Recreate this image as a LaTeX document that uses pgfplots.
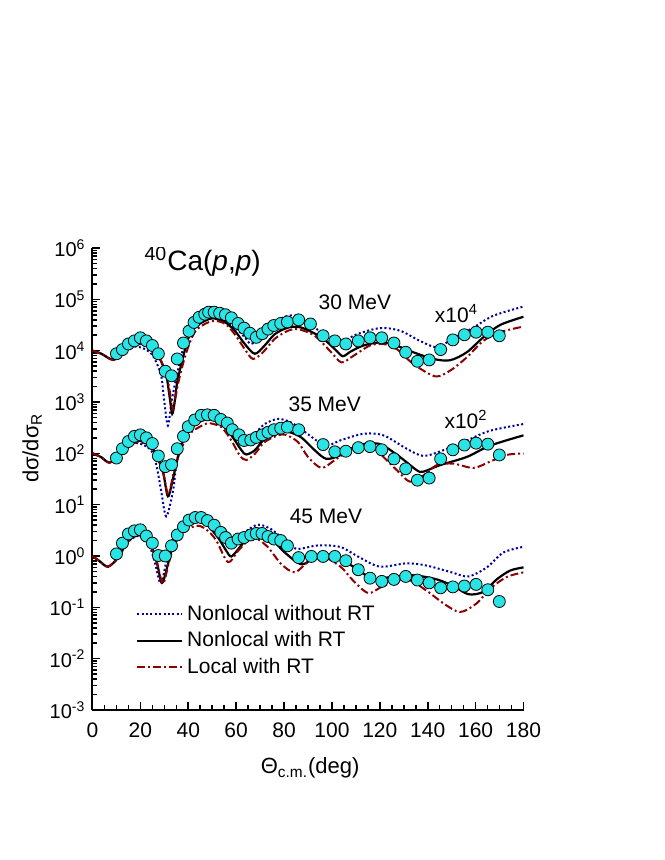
\documentclass[border=0pt]{standalone}
\usepackage{pgfplots}
\pgfplotsset{compat=1.18}
\usepackage{fontspec}
\setmainfont{Liberation Sans}
\definecolor{navy}{RGB}{0,0,160}
\definecolor{dred}{RGB}{140,0,0}
\definecolor{cyanfill}{RGB}{40,228,228}

\begin{document}
\begin{tikzpicture}
\useasboundingbox (-46.25pt,-75pt) rectangle (285.75pt,355pt);
\begin{axis}[
  at={(0pt,0pt)}, anchor=south west,
  scale only axis, width=215.5pt, height=231pt,
  xmin=0, xmax=180, ymode=log, ymin=1e-3, ymax=1e6,
  axis x line*=bottom, axis y line*=left,
  axis line style={line width=1pt},
  tick align=inside, major tick length=4pt, minor tick length=2.5pt,
  every tick/.style={black, line width=0.8pt},
  xtick={0,20,...,180}, minor x tick num=3,
  ytick={1e-3,1e-2,0.1,1,10,100,1e3,1e4,1e5,1e6},
  yticklabels={10\textsuperscript{-3},10\textsuperscript{-2},10\textsuperscript{-1},10\textsuperscript{0},10\textsuperscript{1},10\textsuperscript{2},10\textsuperscript{3},10\textsuperscript{4},10\textsuperscript{5},10\textsuperscript{6}},
  minor ytick={2e-3,3e-3,4e-3,5e-3,6e-3,7e-3,8e-3,9e-3,
    2e-2,3e-2,4e-2,5e-2,6e-2,7e-2,8e-2,9e-2,
    0.2,0.3,0.4,0.5,0.6,0.7,0.8,0.9,
    2,3,4,5,6,7,8,9,
    20,30,40,50,60,70,80,90,
    200,300,400,500,600,700,800,900,
    2e3,3e3,4e3,5e3,6e3,7e3,8e3,9e3,
    2e4,3e4,4e4,5e4,6e4,7e4,8e4,9e4,
    2e5,3e5,4e5,5e5,6e5,7e5,8e5,9e5},
  /pgf/number format/assume math mode=true,
  xticklabel style={font=\fontsize{10.5}{12}\selectfont, yshift=-3pt},
  yticklabel style={font=\fontsize{10}{11}\selectfont},
  xlabel={Θ\textsubscript{c.m.}(deg)},
  ylabel={dσ/dσ\textsubscript{R}},
  xlabel style={font=\fontsize{11}{13}\selectfont, at={(axis description cs:0.505,-0.126)}, anchor=center},
  ylabel style={font=\fontsize{11}{13}\selectfont, at={(axis description cs:-0.14,0.567)}, anchor=center},
  legend cell align=left,
  legend style={at={(0.10,0.236)}, anchor=north west, draw=none, fill=none,
    font=\fontsize{10.5}{12.5}\selectfont, row sep=0pt, inner sep=0pt},
  legend image code/.code={\draw[#1] (0pt,0pt) -- (22.5pt,0pt);},
]
% ---- 30 MeV (x10^4)
\addplot[navy, line width=1pt, dash pattern=on 1pt off 1.2pt, smooth] coordinates {
(0,1e4) (3.7,8.7e3) (8.6,6.6e3) (12,8.5e3) (15,1.1e4) (18,1.2e4) (21,1.12e4) (24,9.3e3) (26,6.9e3) (28.7,3.24e3) (30,1e3) (31.5,347) (33,1e3) (34.6,2.45e3) (37.1,7.9e3) (39.2,1.95e4) (42.7,3.31e4) (48.2,4.47e4) (52.4,4.47e4) (59.4,2.82e4) (63.6,1.82e4) (66.3,1.35e4) (70.5,1.95e4) (76.1,3.55e4) (81.7,4.79e4) (87.2,4.47e4) (92.8,2.82e4) (98.4,1.82e4) (103.4,1.45e4) (110.4,2.09e4) (120.1,2.75e4) (128.4,2.45e4) (136.8,1.55e4) (143.8,1.17e4) (150.7,1.74e4) (159.1,2.82e4) (167.4,4.79e4) (180,7.24e4)};
\addplot[black, line width=1.1pt, smooth] coordinates {
(0,1e4) (3.7,8.7e3) (8.6,6.6e3) (12,8.7e3) (15,1.17e4) (19,1.41e4) (23,1.26e4) (27.8,7.4e3) (30.8,3.24e3) (32.2,1.26e3) (33.3,589) (34.3,1e3) (35.4,2.45e3) (37.8,7.4e3) (39.9,1.7e4) (42.7,2.82e4) (46.9,3.8e4) (50.3,4.27e4) (55.2,3.63e4) (59.4,2.45e4) (63.6,1.35e4) (67.8,8.7e3) (71.9,1.26e4) (76.1,2.09e4) (81.7,2.82e4) (87.2,2.82e4) (95.6,1.82e4) (101.2,1.07e4) (104.5,7.8e3) (107.6,9.5e3) (113.1,1.26e4) (120.1,1.45e4) (125.6,1.32e4) (134,9.3e3) (142.4,6.9e3) (149.3,6.5e3) (156.3,9.3e3) (163.2,1.82e4) (170.2,3.16e4) (180,4.57e4)};
\addplot[dred, line width=1pt, dash pattern=on 4pt off 1.5pt on 1pt off 1.5pt, smooth] coordinates {
(0,1e4) (3.7,8.7e3) (8.6,6.6e3) (12,8.7e3) (15,1.15e4) (19,1.35e4) (23,1.2e4) (27.8,7.4e3) (30.8,3.55e3) (32.3,1.58e3) (33.5,708) (34.5,1.12e3) (36.2,2.82e3) (39.2,9.3e3) (42.7,2.29e4) (46.9,3.31e4) (51,3.8e4) (55.5,3.31e4) (59.4,2.09e4) (63.6,1.07e4) (67,6.9e3) (71.2,9.3e3) (76.1,1.7e4) (81.7,2.45e4) (85.8,2.63e4) (92.8,1.95e4) (99.7,9.3e3) (104,5.9e3) (108.9,7.9e3) (115.9,1.26e4) (121.5,1.35e4) (127.1,1.07e4) (134,5.5e3) (143.1,3.16e3) (149.3,4.07e3) (156.3,7.4e3) (163.2,1.55e4) (170.2,2.29e4) (180,2.95e4)};
\legend{Nonlocal without RT, Nonlocal with RT, Local with RT}
% ---- 35 MeV (x10^2)
\addplot[navy, line width=1pt, dash pattern=on 1pt off 1.2pt, smooth, forget plot] coordinates {
(0,100) (3.5,85) (7.2,66) (12,95) (15,132) (18,158) (21,148) (24.6,112) (26.7,59) (28.7,18.2) (30.8,5.9) (33.6,18.2) (35,59) (37.1,166) (39.9,302) (45.4,457) (49.6,513) (55.2,447) (59.4,263) (62.9,178) (67,224) (71.9,372) (77.5,468) (83,398) (88.6,263) (95.6,155) (100,151) (103.4,178) (113.1,240) (121.5,224) (131.2,123) (138.2,89) (146.5,115) (156.3,178) (166,275) (180,372)};
\addplot[black, line width=1.1pt, smooth, forget plot] coordinates {
(0,100) (3.5,85) (7.2,66) (12,98) (15,141) (19,178) (23,151) (26,107) (29.4,44) (31.5,14.5) (33.6,32) (35.7,85) (38.5,209) (42.7,355) (48.2,468) (53.8,372) (58,224) (62.2,115) (64.2,95) (67.8,115) (71.9,191) (77.5,257) (81.7,263) (87.2,204) (92.8,115) (97.7,78) (103.7,93) (110.4,141) (117.3,158) (121.5,141) (128.4,85) (135.4,47) (138.2,44) (145.2,59) (156.3,85) (166,141) (180,224)};
\addplot[dred, line width=1pt, dash pattern=on 4pt off 1.5pt on 1pt off 1.5pt, smooth, forget plot] coordinates {
(0,100) (3.5,85) (7.2,66) (12,95) (15,135) (19,166) (23,141) (26.5,95) (29.5,42) (31.7,15.8) (34.3,51) (37.8,145) (41.3,257) (46.9,372) (48.7,389) (53.8,324) (58,178) (61.5,91) (64.2,74) (67.8,98) (71.9,166) (77.5,224) (80.8,229) (85.8,166) (90,85) (95.6,52) (101.2,74) (106.2,107) (111.7,135) (115.9,145) (121.5,85) (127.1,47) (132.6,28) (138.2,37) (143.8,59) (150.7,63) (159.1,52) (166,69) (173,93) (180,100)};
% ---- 45 MeV
\addplot[navy, line width=1pt, dash pattern=on 1pt off 1.2pt, smooth, forget plot] coordinates {
(0,1) (3,0.79) (6.5,0.62) (10.7,0.93) (14.8,1.86) (19,2.45) (23.2,1.86) (26,0.76) (28.5,0.29) (30.8,0.76) (33.6,2.14) (37.1,3.89) (42.7,5.5) (46.9,4.9) (51,3.09) (55.2,2.0) (59.4,1.70) (63.6,2.88) (69.1,4.07) (74.7,3.31) (80.3,2.0) (85.1,1.38) (92.8,1.58) (97,1.62) (103.9,1.48) (111.7,0.93) (120.1,0.62) (131.2,0.72) (139.6,0.65) (150,0.48) (157,0.40) (164.7,0.60) (171.6,1.17) (180,1.51)};
\addplot[black, line width=1.1pt, smooth, forget plot] coordinates {
(0,1) (3,0.79) (6.5,0.62) (10.7,0.93) (14.8,2.0) (19,2.69) (23.2,2.14) (26.7,0.81) (29,0.30) (31.5,0.69) (34.3,2.0) (37.8,3.63) (41.3,4.9) (44.1,5.01) (48.2,3.89) (52.4,2.29) (55.9,1.26) (58,0.98) (61.5,1.48) (65,2.29) (69.1,2.69) (74.7,2.14) (80.3,1.17) (87.2,0.69) (92.8,0.93) (98.4,1.02) (103.9,0.85) (110.4,0.56) (117.3,0.35) (124.3,0.39) (134,0.42) (143.8,0.35) (150.7,0.26) (157,0.18) (163.2,0.20) (168.8,0.35) (174.4,0.52) (180,0.60)};
\addplot[dred, line width=1pt, dash pattern=on 4pt off 1.5pt on 1pt off 1.5pt, smooth, forget plot] coordinates {
(0,1) (3,0.79) (6.5,0.62) (10.7,0.93) (14.8,1.9) (19,2.51) (23.2,2.0) (26.7,0.79) (29.4,0.29) (31.8,0.71) (34.3,1.70) (38.5,3.09) (44.1,3.89) (48.2,3.09) (51.7,2.0) (56.6,0.76) (60.8,1.26) (65,2.0) (68.4,2.19) (73.3,1.48) (78.9,0.69) (84.5,0.48) (90,0.76) (97,0.93) (103.9,0.60) (108.9,0.33) (115.2,0.19) (121.5,0.26) (131.2,0.35) (139.6,0.21) (146.5,0.12) (153.5,0.081) (160.5,0.12) (166,0.23) (173,0.39) (180,0.48)};
% ---- data
\addplot[only marks, mark=*, mark size=3pt, mark options={fill=cyanfill, draw=black, line width=0.4pt}, forget plot] coordinates {
(10,8.7e3) (12.5,1.05e4) (15,1.35e4) (17.5,1.55e4) (20,1.78e4) (22.5,1.55e4) (25,1.26e4) (27.5,8.7e3) (30.4,3.98e3) (33,3.24e3) (35.4,6.9e3) (38,1.41e4) (40.3,2.4e4) (42.4,3.55e4) (44.5,4.47e4) (46.9,5.13e4) (48.5,5.62e4) (50.8,5.62e4) (53.1,5.37e4) (55.5,5.01e4) (58,4.37e4) (60.8,3.39e4) (63.3,2.75e4) (65.7,2.19e4) (68.4,1.82e4) (70.9,2.14e4) (73.3,2.63e4) (75.7,3.09e4) (78.6,3.39e4) (81.4,3.63e4) (86.1,3.98e4) (91,3.31e4) (96.3,1.95e4) (101.2,1.55e4) (105.8,1.35e4) (111,1.55e4) (115.9,1.78e4) (120.8,1.78e4) (125.9,1.41e4) (130.8,9.3e3) (135.7,6.2e3) (140.6,6.6e3) (145.4,1.05e4) (150.5,1.62e4) (155.3,2.04e4) (160.2,2.29e4) (165.1,2.29e4) (169.9,1.95e4)
(10,81) (12.5,123) (15,170) (17.5,214) (20,229) (22.5,200) (25,155) (27.5,89) (30.4,55) (33,60) (35.4,123) (38,214) (40,331) (42.7,447) (45.4,550) (48,562) (50.8,550) (53.6,457) (56.3,389) (58.4,288) (61.2,229) (63.3,178) (66.1,182) (68.4,204) (70.9,229) (73.3,257) (75.8,288) (78.6,309) (81.4,324) (86.1,288) (96.3,148) (101.2,107) (105.8,110) (111,129) (115.9,135) (120.8,117) (125.9,78) (130.8,50) (135.7,30) (140.6,33) (145.4,78) (150.5,117) (155.3,145) (160.2,158) (165.1,151) (169.9,93)
(10,1.10) (12.5,1.78) (15,2.69) (17.5,3.09) (20,3.24) (22.5,2.45) (25,1.78) (27.5,1.02) (30.4,1.0) (33,1.58) (35.4,2.57) (38,3.72) (40.3,5.01) (42.9,5.62) (45.4,5.62) (48,4.9) (50.8,3.98) (53.6,2.88) (55.6,2.29) (58,1.78) (60.8,2.14) (63.3,2.29) (66.1,2.57) (68.4,2.75) (70.8,2.75) (73.3,2.40) (75.8,2.14) (78.6,2.0) (81.4,1.58) (86.1,0.93) (91.4,0.98) (96.3,0.98) (101.2,0.98) (105.8,0.81) (111,0.54) (115.9,0.37) (120.8,0.32) (125.9,0.35) (130.8,0.40) (135.7,0.34) (140.6,0.30) (145.4,0.24) (150.5,0.25) (155.3,0.26) (160.2,0.28) (165.1,0.22) (169.9,0.13)};
% ---- text
\node[font=\fontsize{14}{16}\selectfont] at (axis cs:46,5.4e5) {\textsuperscript{40}Ca(\textit{p},\textit{p})};
\node[font=\fontsize{10.5}{12}\selectfont] at (axis cs:109.6,8.9e4) {30 MeV};
\node[font=\fontsize{10.5}{12}\selectfont] at (axis cs:152,5.2e4) {x10\textsuperscript{4}};
\node[font=\fontsize{10.5}{12}\selectfont] at (axis cs:97,890) {35 MeV};
\node[font=\fontsize{10.5}{12}\selectfont] at (axis cs:156,450) {x10\textsuperscript{2}};
\node[font=\fontsize{10.5}{12}\selectfont] at (axis cs:97.5,5.9) {45 MeV};
\end{axis}
\end{tikzpicture}
\end{document}
